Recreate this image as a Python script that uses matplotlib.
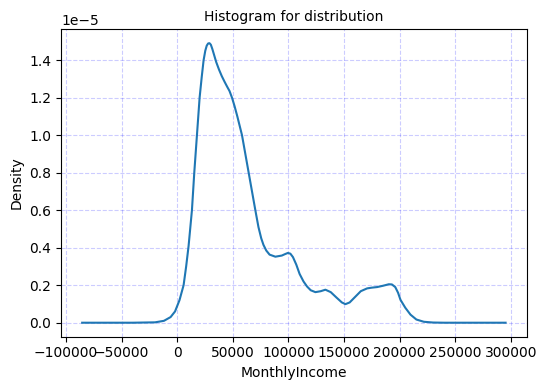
import matplotlib
matplotlib.use("Agg")
import matplotlib.pyplot as plt
import numpy as np

income = [-85500, -40000, -20000, -12000, -6000, -2000, 2000, 5700, 8000, 10200,
          13200, 15300, 17700, 20100, 22000, 23700, 25200, 26500, 27800, 29000,
          30200, 31500, 33000, 35000, 37500, 40000, 42500,
          44700, 47000, 49200, 51500, 54000, 58200, 64200, 70200, 73000, 75500, 77500, 80000, 83000, 88200,
          94000, 97000, 99500, 101700, 104000, 107000, 110000, 113500, 116700, 120000, 124200, 129000, 133200,
          138000, 143000, 148000, 151200, 155000, 160000, 165000, 170700, 175000, 179700,
          185000, 190200, 193000, 196000, 198500, 200700, 205000, 209700, 215000, 221700, 230000,
          240000, 295200]
density = [0, 0, 0.002, 0.01, 0.03, 0.06, 0.12, 0.20, 0.30, 0.41,
           0.60, 0.80, 1.00, 1.20, 1.31, 1.40, 1.45, 1.477, 1.489, 1.49,
           1.482, 1.46, 1.43, 1.39, 1.35, 1.315, 1.285,
           1.26, 1.235, 1.20, 1.155, 1.10, 1.00, 0.80, 0.60, 0.51, 0.45, 0.415, 0.385, 0.363, 0.352,
           0.358, 0.366, 0.372, 0.368, 0.35, 0.31, 0.26, 0.22, 0.193, 0.173, 0.163, 0.168, 0.176,
           0.163, 0.135, 0.108, 0.099, 0.108, 0.138, 0.168, 0.183, 0.187, 0.190,
           0.197, 0.205, 0.204, 0.19, 0.16, 0.122, 0.08, 0.043, 0.017, 0.005, 0.001,
           0, 0]

fig = plt.figure(figsize=(5.47, 3.9), dpi=100)
ax = fig.add_axes([0.1115, 0.1367, 0.963 - 0.1115, 0.925 - 0.1367])
ax.plot(income, np.array(density) * 1e-5, color="#1f77b4", lw=1.5)
ax.grid(True, linestyle="--", color="blue", alpha=0.2)
ax.set_title("Histogram for distribution", fontsize=10)
ax.set_xlabel("MonthlyIncome")
ax.set_ylabel("Density")
fig.savefig("out.png", dpi=100)
